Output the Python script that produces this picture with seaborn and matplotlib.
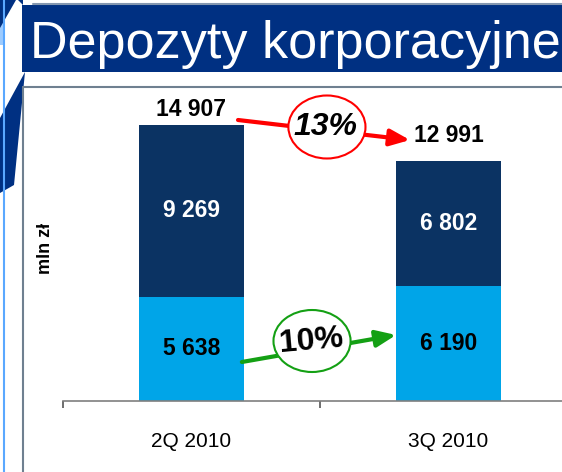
import matplotlib
matplotlib.use("Agg")
import matplotlib.pyplot as plt
import seaborn as sns
import pandas as pd
from matplotlib.patches import Rectangle, Polygon, Ellipse
from matplotlib.lines import Line2D

# ---- data ----
quarters = ["2Q 2010", "3Q 2010"]
upper_vals = [9269, 6802]      # dark segment
lower_vals = [5638, 6190]      # light segment
totals = [14907, 12991]
total_labels = ["14 907", "12 991"]
upper_labels = ["9 269", "6 802"]
lower_labels = ["5 638", "6 190"]
pct_total = "13%"
pct_lower = "10%"
title = "Depozyty korporacyjne"
ylabel = "mln zł"

DARK = "#0B3363"
LIGHT = "#00A5E8"
BANNER = "#003082"

sns.set_style("white")
plt.rcParams["font.family"] = ["Liberation Sans", "DejaVu Sans"]
plt.rcParams["text.color"] = "black"
plt.rcParams["xtick.color"] = "black"

W, H = 562, 472
fig = plt.figure(figsize=(W / 100, H / 100), dpi=100)

def fx(px):
    return px / W

def fy(py):
    return 1 - py / H

# ---- page decorations ----
fig.add_artist(Line2D([fx(4), fx(4)], [0, 1], color="#5AA8FF", lw=1.5))
fig.add_artist(Rectangle((0, fy(45)), fx(4), fy(10) - fy(45), color="#9CCBFF", lw=0))
fig.add_artist(Polygon([(0, 1), (fx(16), 1), (0, fy(28))], closed=True, color=BANNER, lw=0))
fig.add_artist(Polygon([(fx(18), 1), (fx(23), fy(5)), (fx(23), 1)], closed=True, color=BANNER, lw=0))
fig.add_artist(Polygon([(fx(25), fy(72)), (fx(14), fy(185)), (0, fy(193)), (0, fy(118))],
                       closed=True, color=BANNER, lw=0))
fig.add_artist(Line2D([fx(33), 1], [fy(4), fy(4)], color="#8497B0", lw=1.5))
fig.add_artist(Rectangle((fx(22), fy(72)), 1 - fx(22), fy(5) - fy(72), color=BANNER, lw=0))
fig.text(fx(30), fy(58), title, color="white", fontsize=37.5, va="baseline", ha="left")
fig.add_artist(Line2D([fx(23), 1], [fy(87), fy(87)], color="#6F8090", lw=1.5))
fig.add_artist(Line2D([fx(23), fx(23)], [0, fy(87)], color="#6F8090", lw=1.5))

# ---- axes ----
ax = fig.add_axes([fx(63), 1 - 401 / H, 514 / W, 314.5 / H])
df = pd.DataFrame({"q": quarters, "total": totals, "lower": lower_vals, "upper": upper_vals})
sns.barplot(data=df, x="q", y="total", color=DARK, saturation=1, width=0.405,
            linewidth=0, ax=ax)
sns.barplot(data=df, x="q", y="lower", color=LIGHT, saturation=1, width=0.405,
            linewidth=0, ax=ax)
ax.set_xlim(-0.5, 1.5)
ax.set_ylim(0, 17000)
ax.set_xlabel("")
ax.set_ylabel("")
for s in ["top", "right", "left"]:
    ax.spines[s].set_visible(False)
ax.spines["bottom"].set_color("#7F7F7F")
ax.spines["bottom"].set_linewidth(1.2)
ax.set_yticks([])
ax.set_xticks([0, 1])
ax.set_xticklabels(quarters, fontsize=15, color="black")
ax.set_xticks([-0.5, 0.5, 1.5], minor=True)
ax.tick_params(axis="x", which="major", length=0, pad=22, bottom=True)
ax.tick_params(axis="x", which="minor", length=5, width=1.2, color="#555555",
               direction="out", bottom=True)
ax.patch.set_alpha(0)

fig.text(fx(45), fy(248), ylabel, rotation=90, fontsize=13, fontweight="bold",
         ha="center", va="center")

# ---- value labels ----
offsets = [11, 18]
for i in range(len(quarters)):
    ax.text(i, upper_vals[i] / 2 + lower_vals[i], upper_labels[i], color="white",
            fontsize=16.5, fontweight="bold", ha="center", va="center")
    ax.text(i, lower_vals[i] / 2, lower_labels[i], color="black",
            fontsize=16.5, fontweight="bold", ha="center", va="center")
    ax.annotate(total_labels[i], (i, totals[i]), xytext=(0, offsets[i]),
                textcoords="offset points", ha="center", va="center",
                fontsize=16.5, fontweight="bold", color="black")

# ---- growth arrows ----
arrow_style = "-|>,head_length=0.6,head_width=0.25"
ax.annotate("", xy=(0.850, 14108), xytext=(0.181, 15189),
            arrowprops=dict(arrowstyle=arrow_style, color="#FF0000", lw=3,
                            mutation_scale=20, shrinkA=0, shrinkB=0))
ax.add_patch(Ellipse((0.527, 14811), 0.300, 3405, facecolor="white",
                     edgecolor="#FF0000", lw=1.5, zorder=5))
ax.text(0.522, 14811, pct_total, fontsize=23, fontweight="bold", fontstyle="italic",
        ha="center", va="center", zorder=6, color="black")

ax.annotate("", xy=(0.796, 3568), xytext=(0.196, 2108),
            arrowprops=dict(arrowstyle=arrow_style, color="#14A014", lw=3,
                            mutation_scale=20, shrinkA=0, shrinkB=0))
ax.add_patch(Ellipse((0.469, 3243), 0.300, 3351, facecolor="white",
                     edgecolor="#14A014", lw=1.5, zorder=5))
ax.text(0.466, 3243, pct_lower, fontsize=23, fontweight="bold", rotation=5,
        ha="center", va="center", zorder=6, color="black")

fig.savefig("out.png", dpi=100)
